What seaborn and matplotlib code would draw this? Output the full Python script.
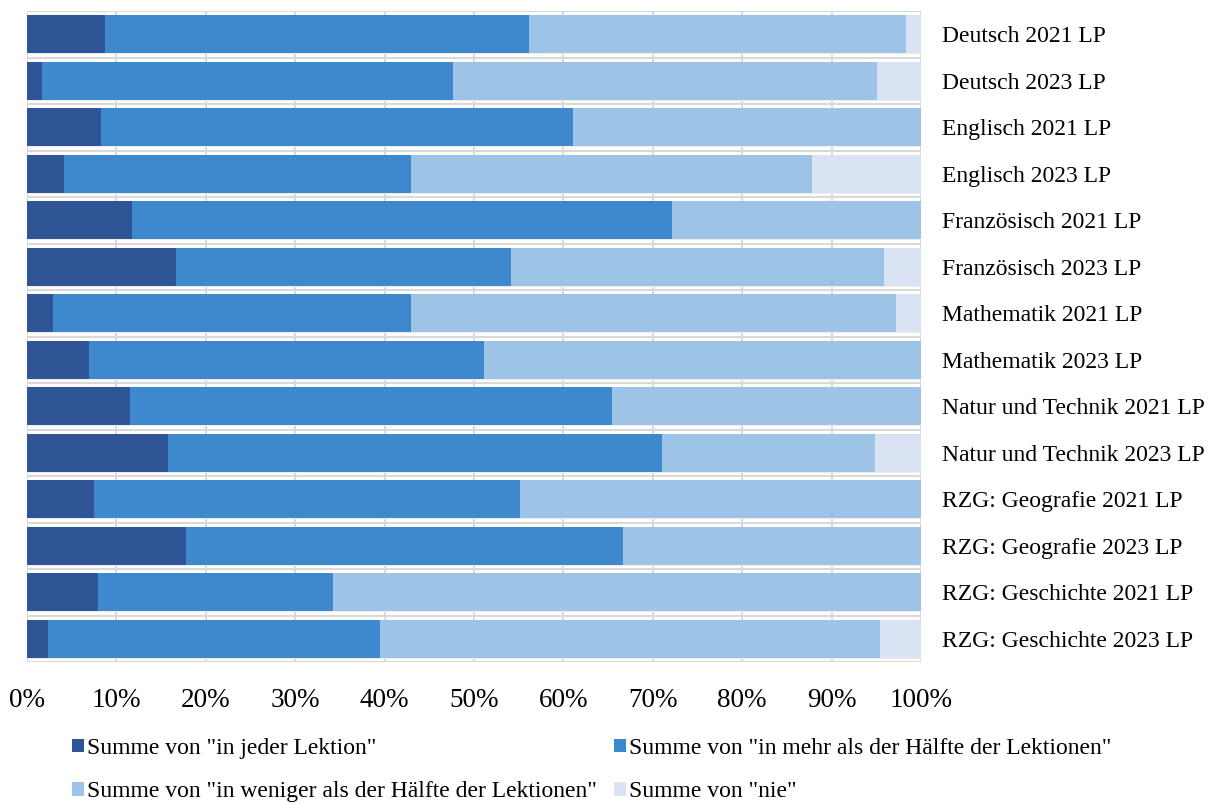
import matplotlib
matplotlib.use("Agg")
import matplotlib.pyplot as plt
import seaborn as sns
import numpy as np
import pandas as pd
from matplotlib.ticker import FuncFormatter
from matplotlib.patches import Patch

categories = [
    "Deutsch 2021 LP", "Deutsch 2023 LP", "Englisch 2021 LP", "Englisch 2023 LP",
    "Französisch 2021 LP", "Französisch 2023 LP", "Mathematik 2021 LP", "Mathematik 2023 LP",
    "Natur und Technik 2021 LP", "Natur und Technik 2023 LP", "RZG: Geografie 2021 LP",
    "RZG: Geografie 2023 LP", "RZG: Geschichte 2021 LP", "RZG: Geschichte 2023 LP",
]
jede = [8.7, 1.7, 8.3, 4.1, 11.7, 16.7, 2.9, 6.9, 11.5, 15.8, 7.5, 17.8, 7.9, 2.3]
mehr = [47.4, 45.9, 52.8, 38.8, 60.5, 37.4, 40.0, 44.2, 53.9, 55.2, 47.6, 48.9, 26.3, 37.2]
weniger = [42.2, 47.5, 38.9, 44.9, 27.8, 41.8, 54.3, 48.9, 34.6, 23.8, 44.9, 33.3, 65.8, 55.9]
nie = [1.7, 4.9, 0.0, 12.2, 0.0, 4.1, 2.8, 0.0, 0.0, 5.2, 0.0, 0.0, 0.0, 4.6]

series_names = [
    'Summe von "in jeder Lektion"',
    'Summe von "in mehr als der Hälfte der Lektionen"',
    'Summe von "in weniger als der Hälfte der Lektionen"',
    'Summe von "nie"',
]
colors = ["#2F5597", "#3E89CD", "#9DC3E6", "#DAE3F3"]
xticks = [0, 10, 20, 30, 40, 50, 60, 70, 80, 90, 100]

sns.set_theme(style="white")
plt.rcParams["font.family"] = ["Liberation Serif", "DejaVu Serif"]
plt.rcParams["text.color"] = "black"

vals = np.array([jede, mehr, weniger, nie], dtype=float)
tot = vals.sum(axis=0)
pct = vals / tot * 100
cum = np.cumsum(pct, axis=0)

fig = plt.figure(figsize=(12.13, 8.02), dpi=100)
ax = fig.add_axes([27 / 1213, 1 - 662 / 802, (921 - 27) / 1213, (662 - 11) / 802])

for i in range(3, -1, -1):
    df = pd.DataFrame({"cat": categories, "val": cum[i]})
    sns.barplot(data=df, x="val", y="cat", color=colors[i], width=0.82,
                saturation=1, ax=ax, zorder=2, edgecolor="none", linewidth=0)

handles = [Patch(facecolor=c, edgecolor="none") for c in colors]

ax.set_xlim(0, 100)
ax.set_ylim(len(categories) - 0.5, -0.5)
ax.set_xticks(xticks)
ax.xaxis.set_major_formatter(FuncFormatter(lambda v, p: f"{int(round(v))}%"))
ax.yaxis.tick_right()
ax.tick_params(axis="y", length=0, pad=15, labelsize=17, labelcolor="black")
ax.tick_params(axis="x", length=0, pad=19, labelsize=19.5, labelcolor="black")
ax.set_xlabel("")
ax.set_ylabel("")
ax.grid(False)
for x in xticks:
    ax.axvline(x, color="#D9D9D9", lw=1.5, zorder=1)
for b in np.arange(-0.5, len(categories) + 0.5, 1):
    ax.axhline(b, color="#D9D9D9", lw=1.5, zorder=1)
for b in np.arange(0.41, len(categories), 1):
    ax.axhline(b, color="#EDEDED", lw=1.0, zorder=1)
for s in ax.spines.values():
    s.set_visible(False)

order = [0, 2, 1, 3]
fig.legend([handles[k] for k in order], [series_names[k] for k in order], ncol=2,
           loc="upper left", bbox_to_anchor=(72 / 1213, 1 - 738 / 802), frameon=False,
           fontsize=17, handlelength=0.5, handleheight=0.5, handletextpad=0.15,
           columnspacing=0.7, labelspacing=0.95, borderaxespad=0, borderpad=0,
           labelcolor="black")

fig.savefig("out.png", dpi=100)
